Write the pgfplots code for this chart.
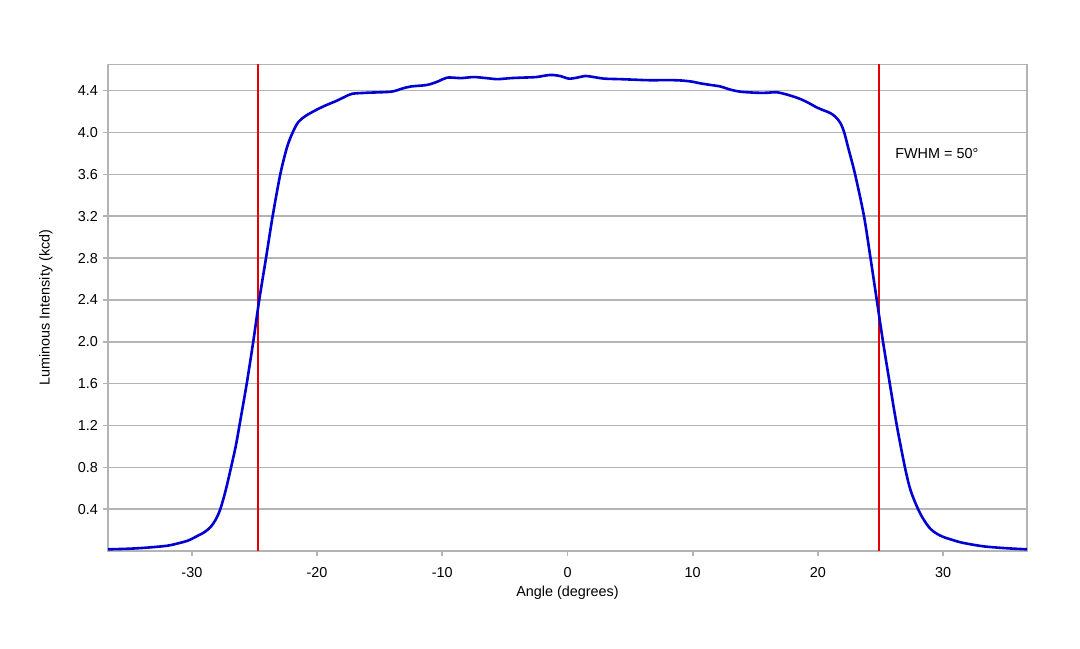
\documentclass[border=0pt]{standalone}
\usepackage{fontspec}
\setmainfont{Liberation Sans}
\usepackage{pgfplots}
\pgfplotsset{compat=1.18}
\definecolor{curveblue}{RGB}{0,0,210}
\definecolor{fwhmred}{RGB}{228,0,0}
\definecolor{gridgray}{RGB}{180,180,180}
\begin{document}
\fontsize{7.2}{8.6}\selectfont
\begin{tikzpicture}
\useasboundingbox (-54pt,-48.5pt) rectangle (486pt,275.5pt);
\begin{axis}[
  at={(0pt,0pt)}, anchor=south west,
  scale only axis,
  width=459.5pt, height=243.25pt,
  xmin=-36.7, xmax=36.7,
  ymin=0, ymax=4.65,
  xtick={-30,-20,-10,0,10,20,30},
  ytick={0.4,0.8,1.2,1.6,2.0,2.4,2.8,3.2,3.6,4.0,4.4},
  yticklabel style={/pgf/number format/.cd, fixed, fixed zerofill, precision=1},
  /pgf/number format/assume math mode=true,
  xtick pos=bottom, ytick pos=left,
  tick align=outside,
  major tick length=2.5pt,
  every tick/.style={gridgray, line width=0.8pt},
  axis line style={gridgray, line width=0.8pt},
  ymajorgrids=true,
  major grid style={gridgray, line width=0.8pt},
  tick label style={font=\fontsize{7.2}{8.6}\selectfont, text=black},
  xticklabel style={yshift=-3pt},
  label style={font=\fontsize{7.2}{8.6}\selectfont},
  xlabel={Angle (degrees)},
  ylabel={Luminous Intensity (kcd)},
  xlabel style={at={(axis description cs:0.5,0)}, anchor=center, yshift=-21pt},
  ylabel style={at={(axis description cs:0,0.5)}, anchor=center, yshift=31pt},
  clip=true,
]
\addplot[fwhmred, line width=1pt] coordinates {(-24.75,0) (-24.75,4.65)};
\addplot[fwhmred, line width=1pt] coordinates {(24.88,0) (24.88,4.65)};
\addplot[curveblue, line width=1.3pt, smooth] coordinates {
(-36.7,0.016) (-35,0.022) (-33.5,0.033) (-32,0.05) (-31.1,0.073) (-30.3,0.10)
(-29.67,0.137) (-29.0,0.18) (-28.5,0.23) (-28.1,0.30) (-27.73,0.40) (-27.3,0.58)
(-26.87,0.80) (-26.5,1.00) (-26.2,1.20) (-25.62,1.60) (-25.1,2.00) (-24.62,2.40)
(-24.08,2.80) (-23.55,3.20) (-22.94,3.60) (-22.4,3.86) (-21.95,4.00) (-21.5,4.10)
(-20.9,4.16) (-20.0,4.22) (-19.3,4.26) (-18.5,4.30) (-17.8,4.34) (-17.2,4.37)
(-16.0,4.38) (-14.1,4.39) (-13.2,4.42) (-12.5,4.44) (-11.2,4.455) (-10.3,4.49)
(-9.6,4.525) (-8.5,4.52) (-7.5,4.53) (-6.5,4.52) (-5.6,4.51) (-4.5,4.52)
(-3.5,4.525) (-2.5,4.53) (-1.4,4.55) (-0.6,4.54) (0.1,4.515) (0.8,4.525)
(1.4,4.54) (2.1,4.53) (2.9,4.515) (4.2,4.51) (5.3,4.505) (6.4,4.50)
(7.5,4.50) (8.5,4.50) (9.3,4.495) (10.0,4.485) (10.6,4.47) (11.4,4.455)
(12.2,4.44) (13.0,4.41) (13.8,4.39) (15.1,4.38) (16.0,4.38) (16.7,4.385)
(17.6,4.36) (18.6,4.32) (19.3,4.28) (19.9,4.24) (20.5,4.21) (21.0,4.185)
(21.4,4.15) (21.8,4.09) (22.1,4.00) (22.45,3.84) (22.97,3.60) (23.68,3.20)
(24.2,2.80) (24.7,2.40) (25.2,2.00) (25.74,1.60) (26.3,1.20) (26.95,0.80)
(27.4,0.58) (28.0,0.40) (28.5,0.29) (29.0,0.21) (29.5,0.165) (30.0,0.135)
(30.5,0.115) (31.5,0.08) (33.2,0.045) (35,0.027) (36.7,0.016)
};
\node[anchor=west, font=\fontsize{7.2}{8.6}\selectfont, inner sep=0pt] at (axis cs:26.15,3.80) {FWHM = 50°};
\end{axis}
\end{tikzpicture}
\end{document}
